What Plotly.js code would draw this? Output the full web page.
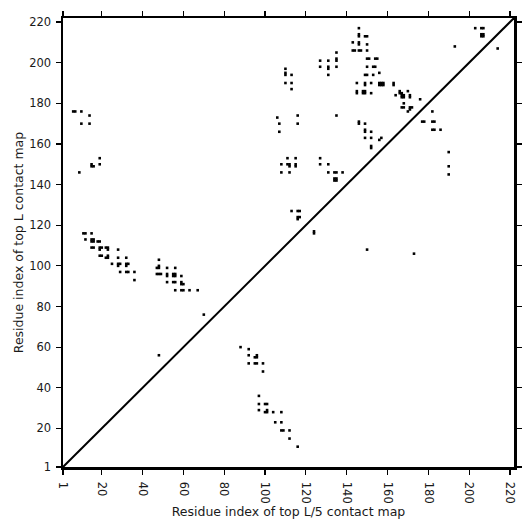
<!DOCTYPE html>
<html>
<head>
<meta charset="utf-8">
<script src="https://cdn.plot.ly/plotly-3.0.1.min.js"></script>
<style>html,body{margin:0;padding:0;background:#fff;}#chart{width:532px;height:532px;}</style>
</head>
<body>
<div id="chart"></div>
<script>
// Sequence length (axis extent)
var seqLength = 222;

// Top L contacts (i < j): drawn above the diagonal at (i, j)
var topLContacts = [
  [6,176],[7,176],[10,176],[14,174],[10,170],[14,170],[15,150],[15,149],[16,149],[19,153],[19,150],[9,146],
  [11,116],[12,116],[15,116],[12,113],[15,112],[16,112],[15,113],[16,113],[18,112],[19,112],
  [15,109],[16,109],[19,109],[20,109],[19,108],[22,109],[23,109],[23,108],[28,108],
  [19,105],[20,105],[22,104],[23,104],[23,105],[28,104],[32,104],[25,101],
  [28,100],[28,101],[29,101],[32,100],[32,101],[33,101],[29,97],[32,97],[33,97],[36,97],[36,93],
  [48,103],[47,99],[48,99],[48,100],[52,99],[56,99],[47,96],[48,96],[49,96],
  [52,95],[52,96],[55,95],[56,95],[55,96],[56,96],[59,95],[52,92],[55,92],[56,92],
  [59,91],[59,92],[60,91],[56,88],[59,88],[60,88],[63,88],[67,88],[70,76],[48,56],
  [106,173],[107,170],[107,166],[116,174],[116,170],[135,174],
  [108,150],[111,153],[111,150],[112,150],[112,149],[115,153],[115,149],[115,150],[127,153],[127,150],[131,150],
  [108,146],[112,146],[131,146],[134,146],[135,146],[138,146],[134,142],[135,142],[134,143],[135,143],
  [113,127],[116,127],[117,127],[116,124],[117,124],[116,123],
  [110,197],[110,194],[110,195],[113,194],[110,190],[113,190],[113,187],
  [127,201],[131,201],[135,201],[135,202],[135,205],[127,198],[131,197],[131,198],[135,198],[131,194],
  [146,217],[146,213],[146,214],[149,213],[150,213],[143,210],[146,209],[146,210],[150,209],
  [143,206],[144,206],[146,206],[147,206],[150,206],
  [150,202],[151,202],[154,202],[155,202],[150,198],[153,198],[154,198],
  [149,194],[150,194],[153,194],[156,195],
  [145,190],[149,189],[149,190],[152,190],[156,189],[156,190],[157,189],[157,190],[158,189],[158,190],[163,189],[163,190],
  [145,185],[145,186],[148,185],[149,185],[148,186],[149,186],[152,185],
  [164,184],[166,185],[166,186],[167,185],[170,186],
  [167,183],[168,183],[167,184],[168,184],[171,183],[171,184],[176,182],
  [168,180],[167,178],[168,178],[171,177],[171,178],[172,178],[170,176],[182,176],
  [177,171],[178,171],[182,171],[183,171],[182,167],[183,167],[186,167],
  [146,170],[146,171],[149,170],[149,166],[149,167],[152,166],[149,163],[152,163],[156,162],[157,163],[152,158],[152,159],
  [193,208],[203,217],[206,217],[207,217],[206,213],[207,213],[206,214],[207,214]
];

// Top L/5 contacts (i < j): drawn below the diagonal at (j, i)
var topL5Contacts = [
  [60,88],[59,92],[56,92],[55,95],[55,96],[56,96],[52,92],[52,95],[52,96],[52,99],[48,99],
  [36,97],[32,97],[32,100],[32,101],[29,97],[28,100],[28,101],[29,101],[28,104],[28,108],
  [23,105],[23,108],[19,108],[19,109],[19,112],[15,112],[11,116],
  [116,124],[117,124],[108,150],[106,173],[145,190],[149,190],[156,190],[207,214]
];

var tickValues = [1,20,40,60,80,100,120,140,160,180,200,220];

var fontFam = 'DejaVu Sans, Liberation Sans, sans-serif';
var markerStyle = {symbol:'square', size:2.6, color:'#000', line:{width:0}};

var traces = [
  {
    x: [1, seqLength], y: [1, seqLength], mode: 'lines', type: 'scatter',
    line: {color:'#000', width:2}, hoverinfo:'skip'
  },
  {
    x: topLContacts.map(function(p){return p[0];}),
    y: topLContacts.map(function(p){return p[1];}),
    mode: 'markers', type: 'scatter', marker: markerStyle
  },
  {
    x: topL5Contacts.map(function(p){return p[1];}),
    y: topL5Contacts.map(function(p){return p[0];}),
    mode: 'markers', type: 'scatter', marker: markerStyle
  }
];

var axisCommon = {
  range: [1, seqLength], tickmode: 'array', tickvals: tickValues,
  ticktext: tickValues.map(String),
  showgrid: false, zeroline: false, showline: true, linecolor: '#000', linewidth: 2.5,
  mirror: 'ticks', ticks: 'outside', ticklen: 5, tickwidth: 1.2, tickcolor: '#000',
  tickfont: {family: fontFam, size: 11.5, color: '#1a1a1a'}
};

var layout = {
  width: 532, height: 532,
  margin: {l:63, r:18, t:18, b:65},
  paper_bgcolor: '#fff', plot_bgcolor: '#fff',
  showlegend: false,
  xaxis: Object.assign({}, axisCommon, {
    tickangle: 90, ticklabelstandoff: 5,
    title: {text: 'Residue index of top L/5 contact map', font: {family: fontFam, size: 12.5, color: '#1a1a1a'}, standoff: 0}
  }),
  yaxis: Object.assign({}, axisCommon, {
    ticklabelstandoff: 2,
    title: {text: 'Residue index of top L contact map', font: {family: fontFam, size: 12.5, color: '#1a1a1a'}, standoff: 3}
  })
};

Plotly.newPlot('chart', traces, layout, {displayModeBar: false, staticPlot: true});
</script>
</body>
</html>
